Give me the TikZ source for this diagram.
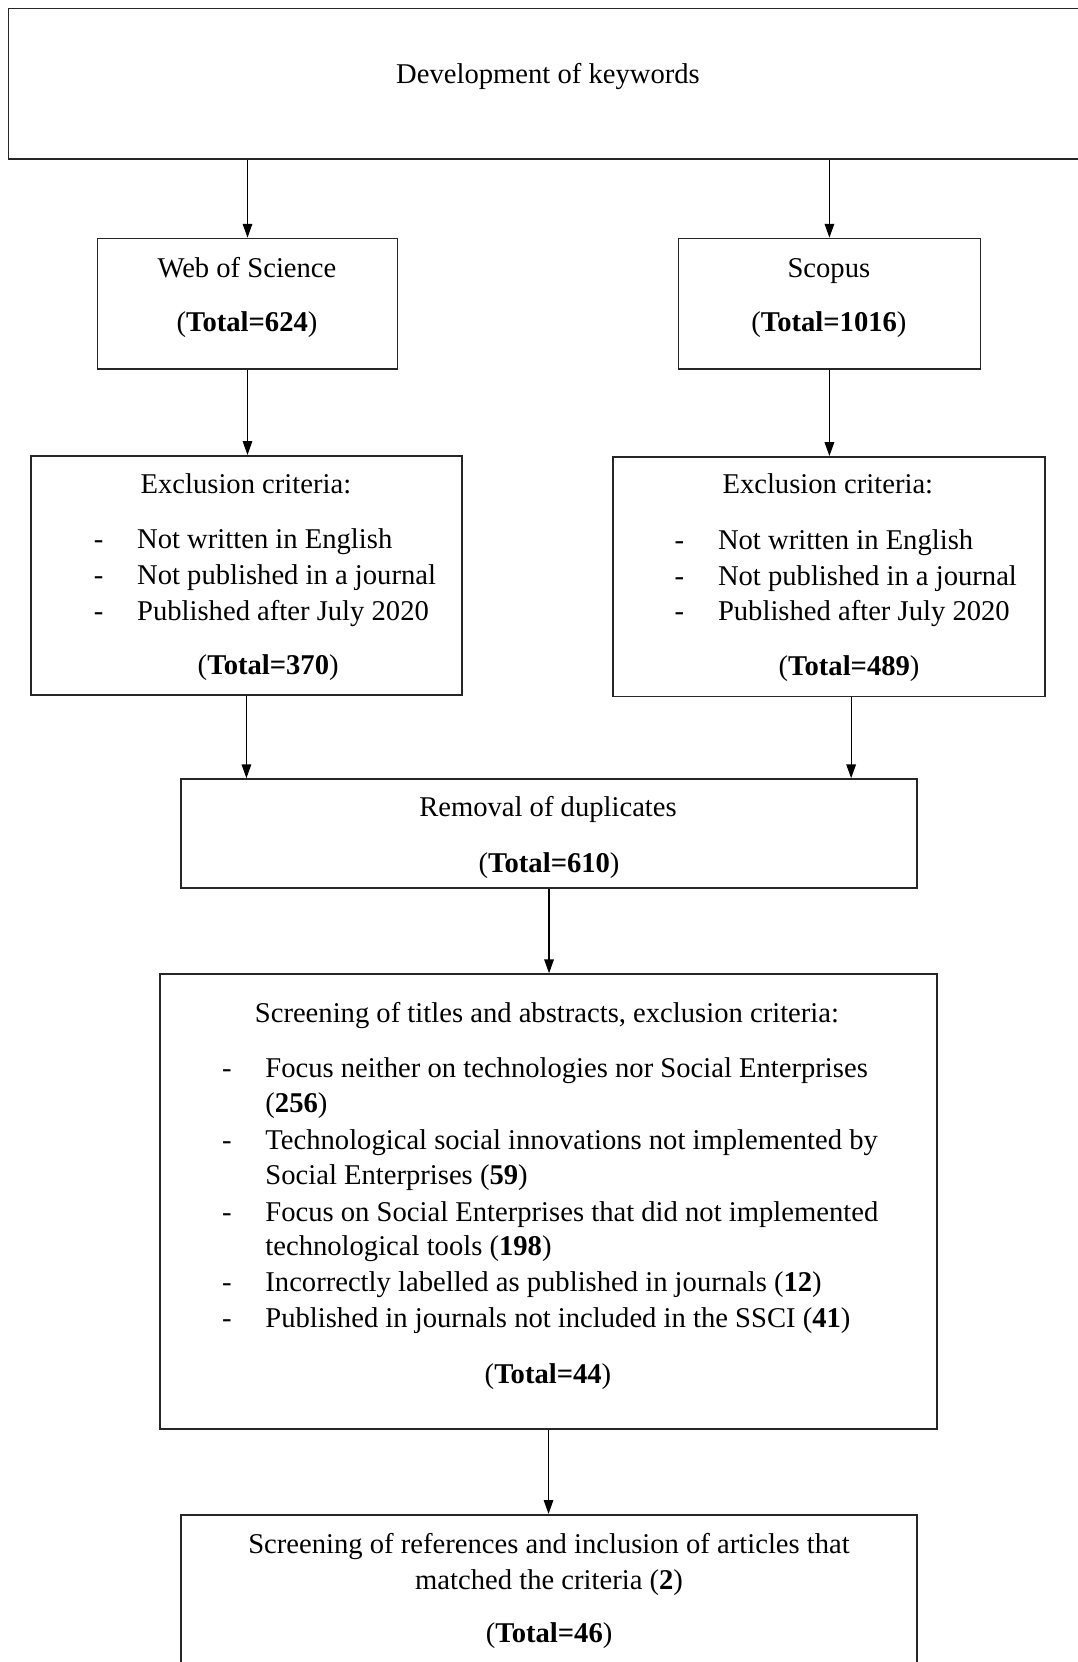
\documentclass[tikz,border=0pt]{standalone}
\usepackage{fontspec}
\setmainfont{Liberation Serif}
\usetikzlibrary{arrows.meta,calc,fit}

\begin{document}
\begin{tikzpicture}[x=0.5pt, y=-0.5pt,
    box/.style={draw=black!85, line width=0.8pt, inner sep=0pt},
    txt/.style={font=\fontsize{13.5}{16}\selectfont, inner sep=0pt, text height=9.5pt, text depth=3pt, yshift=-1pt},
    item/.style={txt, anchor=west},
    arr/.style={-{Triangle[length=6.5pt,width=4.5pt]}, line width=0.55pt}]
    % Frame
    \useasboundingbox (0,0) rectangle (1017,1568);
    
    % Boxes
    \node[box, fit={(8,8) (1030,150)}] (keys) {};
    \node[box, fit={(92,225) (375,348)}] (wos) {};
    \node[box, fit={(640,225) (925,348)}] (sco) {};
    \node[box, fit={(29,430) (436,656)}] (exL) {};
    \node[box, fit={(578,431) (986,657)}] (exR) {};
    \node[box, fit={(171,735) (865,838)}] (rem) {};
    \node[box, fit={(151,919) (884,1348)}] (scr) {};
    \node[box, fit={(171,1429) (865,1590)}] (fin) {};
    
    % Keywords
    \node[txt] (keysT) at (517, 70) {Development of keywords};
    
    % Databases
    \node[txt] (wosT) at (233, 253) {Web of Science};
    \node[txt] (wosN) at (233, 304) {(\textbf{Total=624})};
    \node[txt] (scoT) at (782, 253) {Scopus};
    \node[txt] (scoN) at (782, 304) {(\textbf{Total=1016})};
    
    % Exclusion criteria, left
    \node[txt] (exLT) at (232, 457) {Exclusion criteria:};
    \node[txt] (exLd1) at (93, 509) {-};
    \node[txt] (exLd2) at (93, 543) {-};
    \node[txt] (exLd3) at (93, 577) {-};
    \node[item] (exL1) at (129, 509) {Not written in English};
    \node[item] (exL2) at (129, 543) {Not published in a journal};
    \node[item] (exL3) at (129, 577) {Published after July 2020};
    \node[txt] (exLN) at (253, 628) {(\textbf{Total=370})};
    
    % Exclusion criteria, right
    \node[txt] (exRT) at (781, 457) {Exclusion criteria:};
    \node[txt] (exRd1) at (641, 510) {-};
    \node[txt] (exRd2) at (641, 544) {-};
    \node[txt] (exRd3) at (641, 577) {-};
    \node[item] (exR1) at (677, 510) {Not written in English};
    \node[item] (exR2) at (677, 544) {Not published in a journal};
    \node[item] (exR3) at (677, 577) {Published after July 2020};
    \node[txt] (exRN) at (801, 629) {(\textbf{Total=489})};
    
    % Duplicates
    \node[txt] (remT) at (517, 762) {Removal of duplicates};
    \node[txt] (remN) at (518, 815) {(\textbf{Total=610})};
    
    % Screening of titles and abstracts
    \node[txt] (scrT) at (516, 956) {Screening of titles and abstracts, exclusion criteria:};
    \node[txt] (scrd1) at (214, 1008) {-};
    \node[txt] (scrd2) at (214, 1076) {-};
    \node[txt] (scrd3) at (214, 1144) {-};
    \node[txt] (scrd4) at (214, 1210) {-};
    \node[txt] (scrd5) at (214, 1244) {-};
    \node[item] (scr1a) at (250, 1008) {Focus neither on technologies nor Social Enterprises};
    \node[item] (scr1b) at (250, 1041) {(\textbf{256})};
    \node[item] (scr2a) at (250, 1076) {Technological social innovations not implemented by};
    \node[item] (scr2b) at (250, 1109) {Social Enterprises (\textbf{59})};
    \node[item] (scr3a) at (250, 1144) {Focus on Social Enterprises that did not implemented};
    \node[item] (scr3b) at (250, 1176) {technological tools (\textbf{198})};
    \node[item] (scr4) at (250, 1210) {Incorrectly labelled as published in journals (\textbf{12})};
    \node[item] (scr5) at (250, 1244) {Published in journals not included in the SSCI (\textbf{41})};
    \node[txt] (scrN) at (517, 1297) {(\textbf{Total=44})};
    
    % Screening of references
    \node[txt] (finT1) at (518, 1457) {Screening of references and inclusion of articles that};
    \node[txt] (finT2) at (518, 1491) {matched the criteria (\textbf{2})};
    \node[txt] (finN) at (518, 1541) {(\textbf{Total=46})};
    
    % Arrows
    \draw[arr] (wos.north |- keys.south) -- (wos.north);
    \draw[arr] (sco.north |- keys.south) -- (sco.north);
    \draw[arr] (wos.south) -- (wos.south |- exL.north);
    \draw[arr] (sco.south) -- (sco.south |- exR.north);
    \draw[arr] (exL.south) -- (exL.south |- rem.north);
    \draw[arr] ([xshift=10.5pt]exR.south) -- ([xshift=10.5pt]exR.south |- rem.north);
    \draw[arr] (rem.south) -- (rem.south |- scr.north);
    \draw[arr] (scr.south) -- (scr.south |- fin.north);
    
\end{tikzpicture}
\end{document}
